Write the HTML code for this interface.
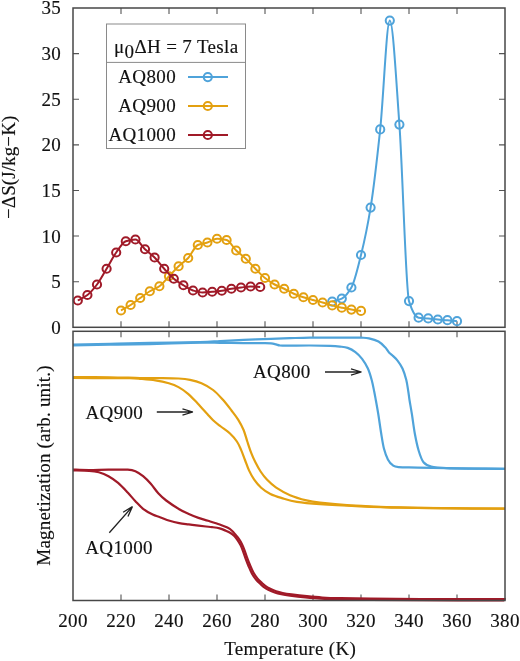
<!DOCTYPE html><html><head><meta charset="utf-8"><style>html,body{margin:0;padding:0;background:#fff;}svg{display:block;will-change:transform;} text{font-family:"Liberation Serif",serif;font-size:19px;fill:#111;letter-spacing:0.35px;stroke:#111;stroke-width:0.15px;}</style></head><body>
<svg width="520" height="661" viewBox="0 0 520 661">
<path d="M121.0,327.3v-6 M121.0,8v6 M121.0,331.3v6 M121.0,600.5v-6 M169.0,327.3v-6 M169.0,8v6 M169.0,331.3v6 M169.0,600.5v-6 M217.0,327.3v-6 M217.0,8v6 M217.0,331.3v6 M217.0,600.5v-6 M265.0,327.3v-6 M265.0,8v6 M265.0,331.3v6 M265.0,600.5v-6 M313.0,327.3v-6 M313.0,8v6 M313.0,331.3v6 M313.0,600.5v-6 M361.0,327.3v-6 M361.0,8v6 M361.0,331.3v6 M361.0,600.5v-6 M409.0,327.3v-6 M409.0,8v6 M409.0,331.3v6 M409.0,600.5v-6 M457.0,327.3v-6 M457.0,8v6 M457.0,331.3v6 M457.0,600.5v-6 M73,281.69h6 M505,281.69h-6 M73,236.07h6 M505,236.07h-6 M73,190.46h6 M505,190.46h-6 M73,144.84h6 M505,144.84h-6 M73,99.23h6 M505,99.23h-6 M73,53.61h6 M505,53.61h-6" stroke="#555" stroke-width="1.1" fill="none"/>
<g stroke="#8a8a8a" stroke-width="1" fill="none"><rect x="106.5" y="24" width="139" height="124.5"/><line x1="106.5" y1="62.4" x2="245.5" y2="62.4"/></g>
<text x="114" y="52.7">μ<tspan dy="5.6">0</tspan><tspan dy="-5.6">ΔH = 7 Tesla</tspan></text>
<text x="176" y="83.1" text-anchor="end">AQ800</text>
<line x1="188" y1="77.1" x2="228" y2="77.1" stroke="#4FA3DA" stroke-width="2"/>
<circle cx="207.8" cy="77.1" r="4.1" stroke="#4FA3DA" stroke-width="2" fill="none"/>
<text x="176" y="112.0" text-anchor="end">AQ900</text>
<line x1="188" y1="106" x2="228" y2="106" stroke="#E3A010" stroke-width="2"/>
<circle cx="207.8" cy="106" r="4.1" stroke="#E3A010" stroke-width="2" fill="none"/>
<text x="176" y="141.0" text-anchor="end">AQ1000</text>
<line x1="188" y1="135" x2="228" y2="135" stroke="#A01A28" stroke-width="2"/>
<circle cx="207.8" cy="135" r="4.1" stroke="#A01A28" stroke-width="2" fill="none"/>
<path d="M332.20,301.60 C335.40,300.60 338.60,300.17 341.80,298.60 C345.00,297.03 348.20,293.02 351.40,287.50 C354.60,281.98 357.80,267.85 361.00,255.00 C364.20,242.15 367.40,227.27 370.60,207.60 C373.80,187.93 377.00,159.73 380.20,129.40 C383.40,99.07 386.60,20.60 389.80,20.60 C393.00,20.60 396.20,80.97 399.40,124.60 C402.60,168.23 405.80,290.98 409.00,301.10 C412.20,311.22 415.40,317.25 418.60,317.70 C421.80,318.15 425.00,318.11 428.20,318.40 C431.40,318.69 434.60,319.21 437.80,319.50 C441.00,319.79 444.20,319.93 447.40,320.20 C450.60,320.47 453.80,320.87 457.00,321.20" stroke="#4FA3DA" stroke-width="2" fill="none"/>
<circle cx="332.20" cy="301.60" r="4.1" stroke="#4FA3DA" stroke-width="2" fill="none"/>
<circle cx="341.80" cy="298.60" r="4.1" stroke="#4FA3DA" stroke-width="2" fill="none"/>
<circle cx="351.40" cy="287.50" r="4.1" stroke="#4FA3DA" stroke-width="2" fill="none"/>
<circle cx="361.00" cy="255.00" r="4.1" stroke="#4FA3DA" stroke-width="2" fill="none"/>
<circle cx="370.60" cy="207.60" r="4.1" stroke="#4FA3DA" stroke-width="2" fill="none"/>
<circle cx="380.20" cy="129.40" r="4.1" stroke="#4FA3DA" stroke-width="2" fill="none"/>
<circle cx="389.80" cy="20.60" r="4.1" stroke="#4FA3DA" stroke-width="2" fill="none"/>
<circle cx="399.40" cy="124.60" r="4.1" stroke="#4FA3DA" stroke-width="2" fill="none"/>
<circle cx="409.00" cy="301.10" r="4.1" stroke="#4FA3DA" stroke-width="2" fill="none"/>
<circle cx="418.60" cy="317.70" r="4.1" stroke="#4FA3DA" stroke-width="2" fill="none"/>
<circle cx="428.20" cy="318.40" r="4.1" stroke="#4FA3DA" stroke-width="2" fill="none"/>
<circle cx="437.80" cy="319.50" r="4.1" stroke="#4FA3DA" stroke-width="2" fill="none"/>
<circle cx="447.40" cy="320.20" r="4.1" stroke="#4FA3DA" stroke-width="2" fill="none"/>
<circle cx="457.00" cy="321.20" r="4.1" stroke="#4FA3DA" stroke-width="2" fill="none"/>
<path d="M121.00,310.50 C124.20,308.67 127.40,307.05 130.60,305.00 C133.80,302.95 137.00,300.29 140.20,298.00 C143.40,295.71 146.60,293.16 149.80,291.25 C153.00,289.34 156.20,288.47 159.40,286.25 C162.60,284.03 165.80,279.58 169.00,276.25 C172.20,272.92 175.40,269.26 178.60,266.25 C181.80,263.24 185.00,261.36 188.20,258.00 C191.40,254.64 194.60,246.40 197.80,245.00 C201.00,243.60 204.20,243.50 207.40,242.50 C210.60,241.50 213.80,238.75 217.00,238.75 C220.20,238.75 223.40,239.26 226.60,240.00 C229.80,240.74 233.00,247.42 236.20,250.50 C239.40,253.58 242.60,255.74 245.80,258.75 C249.00,261.76 252.20,265.55 255.40,268.75 C258.60,271.95 261.80,275.46 265.00,278.00 C268.20,280.54 271.40,282.79 274.60,284.50 C277.80,286.21 281.00,287.22 284.20,288.75 C287.40,290.28 290.60,292.38 293.80,293.75 C297.00,295.12 300.20,296.22 303.40,297.25 C306.60,298.28 309.80,299.13 313.00,300.00 C316.20,300.87 319.40,301.60 322.60,302.50 C325.80,303.40 329.00,304.54 332.20,305.40 C335.40,306.26 338.60,307.01 341.80,307.70 C345.00,308.39 348.20,309.09 351.40,309.60 C354.60,310.11 357.80,310.47 361.00,310.90" stroke="#E3A010" stroke-width="2" fill="none"/>
<circle cx="121.00" cy="310.50" r="4.1" stroke="#E3A010" stroke-width="2" fill="none"/>
<circle cx="130.60" cy="305.00" r="4.1" stroke="#E3A010" stroke-width="2" fill="none"/>
<circle cx="140.20" cy="298.00" r="4.1" stroke="#E3A010" stroke-width="2" fill="none"/>
<circle cx="149.80" cy="291.25" r="4.1" stroke="#E3A010" stroke-width="2" fill="none"/>
<circle cx="159.40" cy="286.25" r="4.1" stroke="#E3A010" stroke-width="2" fill="none"/>
<circle cx="169.00" cy="276.25" r="4.1" stroke="#E3A010" stroke-width="2" fill="none"/>
<circle cx="178.60" cy="266.25" r="4.1" stroke="#E3A010" stroke-width="2" fill="none"/>
<circle cx="188.20" cy="258.00" r="4.1" stroke="#E3A010" stroke-width="2" fill="none"/>
<circle cx="197.80" cy="245.00" r="4.1" stroke="#E3A010" stroke-width="2" fill="none"/>
<circle cx="207.40" cy="242.50" r="4.1" stroke="#E3A010" stroke-width="2" fill="none"/>
<circle cx="217.00" cy="238.75" r="4.1" stroke="#E3A010" stroke-width="2" fill="none"/>
<circle cx="226.60" cy="240.00" r="4.1" stroke="#E3A010" stroke-width="2" fill="none"/>
<circle cx="236.20" cy="250.50" r="4.1" stroke="#E3A010" stroke-width="2" fill="none"/>
<circle cx="245.80" cy="258.75" r="4.1" stroke="#E3A010" stroke-width="2" fill="none"/>
<circle cx="255.40" cy="268.75" r="4.1" stroke="#E3A010" stroke-width="2" fill="none"/>
<circle cx="265.00" cy="278.00" r="4.1" stroke="#E3A010" stroke-width="2" fill="none"/>
<circle cx="274.60" cy="284.50" r="4.1" stroke="#E3A010" stroke-width="2" fill="none"/>
<circle cx="284.20" cy="288.75" r="4.1" stroke="#E3A010" stroke-width="2" fill="none"/>
<circle cx="293.80" cy="293.75" r="4.1" stroke="#E3A010" stroke-width="2" fill="none"/>
<circle cx="303.40" cy="297.25" r="4.1" stroke="#E3A010" stroke-width="2" fill="none"/>
<circle cx="313.00" cy="300.00" r="4.1" stroke="#E3A010" stroke-width="2" fill="none"/>
<circle cx="322.60" cy="302.50" r="4.1" stroke="#E3A010" stroke-width="2" fill="none"/>
<circle cx="332.20" cy="305.40" r="4.1" stroke="#E3A010" stroke-width="2" fill="none"/>
<circle cx="341.80" cy="307.70" r="4.1" stroke="#E3A010" stroke-width="2" fill="none"/>
<circle cx="351.40" cy="309.60" r="4.1" stroke="#E3A010" stroke-width="2" fill="none"/>
<circle cx="361.00" cy="310.90" r="4.1" stroke="#E3A010" stroke-width="2" fill="none"/>
<path d="M77.80,300.50 C81.00,298.67 84.20,297.41 87.40,295.00 C90.60,292.59 93.80,288.70 97.00,284.50 C100.20,280.30 103.40,274.08 106.60,268.75 C109.80,263.42 113.00,256.93 116.20,252.50 C119.40,248.07 122.60,242.26 125.80,241.25 C129.00,240.24 132.20,239.50 135.40,239.50 C138.60,239.50 141.80,246.27 145.00,249.25 C148.20,252.23 151.40,254.33 154.60,257.50 C157.80,260.67 161.00,265.22 164.20,268.75 C167.40,272.28 170.60,276.12 173.80,278.75 C177.00,281.38 180.20,283.31 183.40,285.25 C186.60,287.19 189.80,289.53 193.00,290.50 C196.20,291.47 199.40,292.50 202.60,292.50 C205.80,292.50 209.00,292.04 212.20,291.75 C215.40,291.46 218.60,291.19 221.80,290.75 C225.00,290.31 228.20,289.26 231.40,288.75 C234.60,288.24 237.80,287.87 241.00,287.50 C244.20,287.13 247.40,286.50 250.60,286.50 C253.80,286.50 257.00,286.83 260.20,287.00" stroke="#A01A28" stroke-width="2" fill="none"/>
<circle cx="77.80" cy="300.50" r="4.1" stroke="#A01A28" stroke-width="2" fill="none"/>
<circle cx="87.40" cy="295.00" r="4.1" stroke="#A01A28" stroke-width="2" fill="none"/>
<circle cx="97.00" cy="284.50" r="4.1" stroke="#A01A28" stroke-width="2" fill="none"/>
<circle cx="106.60" cy="268.75" r="4.1" stroke="#A01A28" stroke-width="2" fill="none"/>
<circle cx="116.20" cy="252.50" r="4.1" stroke="#A01A28" stroke-width="2" fill="none"/>
<circle cx="125.80" cy="241.25" r="4.1" stroke="#A01A28" stroke-width="2" fill="none"/>
<circle cx="135.40" cy="239.50" r="4.1" stroke="#A01A28" stroke-width="2" fill="none"/>
<circle cx="145.00" cy="249.25" r="4.1" stroke="#A01A28" stroke-width="2" fill="none"/>
<circle cx="154.60" cy="257.50" r="4.1" stroke="#A01A28" stroke-width="2" fill="none"/>
<circle cx="164.20" cy="268.75" r="4.1" stroke="#A01A28" stroke-width="2" fill="none"/>
<circle cx="173.80" cy="278.75" r="4.1" stroke="#A01A28" stroke-width="2" fill="none"/>
<circle cx="183.40" cy="285.25" r="4.1" stroke="#A01A28" stroke-width="2" fill="none"/>
<circle cx="193.00" cy="290.50" r="4.1" stroke="#A01A28" stroke-width="2" fill="none"/>
<circle cx="202.60" cy="292.50" r="4.1" stroke="#A01A28" stroke-width="2" fill="none"/>
<circle cx="212.20" cy="291.75" r="4.1" stroke="#A01A28" stroke-width="2" fill="none"/>
<circle cx="221.80" cy="290.75" r="4.1" stroke="#A01A28" stroke-width="2" fill="none"/>
<circle cx="231.40" cy="288.75" r="4.1" stroke="#A01A28" stroke-width="2" fill="none"/>
<circle cx="241.00" cy="287.50" r="4.1" stroke="#A01A28" stroke-width="2" fill="none"/>
<circle cx="250.60" cy="286.50" r="4.1" stroke="#A01A28" stroke-width="2" fill="none"/>
<circle cx="260.20" cy="287.00" r="4.1" stroke="#A01A28" stroke-width="2" fill="none"/>
<path d="M73.00,344.55 C79.17,344.42 97.17,344.02 110.00,343.75 C122.83,343.48 135.00,343.22 150.00,342.95 C165.00,342.68 188.33,342.41 200.00,342.10 C211.67,341.79 212.75,341.47 220.00,341.10 C227.25,340.73 235.00,340.27 243.50,339.90 C252.00,339.53 263.25,339.18 271.00,338.90 C278.75,338.62 283.50,338.42 290.00,338.20 C296.50,337.98 301.67,337.68 310.00,337.60 C318.33,337.52 331.50,337.68 340.00,337.70 C348.50,337.72 356.17,337.60 361.00,337.70 C365.83,337.80 366.08,337.67 369.00,338.30 C371.92,338.93 375.80,340.00 378.50,341.50 C381.20,343.00 383.45,345.47 385.20,347.30 C386.95,349.13 387.78,351.13 389.00,352.50 C390.22,353.87 391.05,354.12 392.50,355.50 C393.95,356.88 396.03,358.63 397.70,360.80 C399.37,362.97 401.07,365.30 402.50,368.50 C403.93,371.70 405.33,376.17 406.30,380.00 C407.27,383.83 407.77,388.17 408.30,391.50 C408.83,394.83 408.90,396.22 409.50,400.00 C410.10,403.78 411.02,408.62 411.90,414.20 C412.78,419.78 413.67,427.40 414.80,433.50 C415.93,439.60 417.25,446.00 418.70,450.80 C420.15,455.60 421.42,459.68 423.50,462.30 C425.58,464.92 427.37,465.53 431.20,466.50 C435.03,467.47 439.20,467.75 446.50,468.10 C453.80,468.45 465.25,468.48 475.00,468.60 C484.75,468.72 500.00,468.77 505.00,468.80" stroke="#4FA3DA" stroke-width="2.2" fill="none" stroke-linejoin="round"/>
<path d="M73.00,345.45 C79.17,345.33 97.17,344.98 110.00,344.75 C122.83,344.52 135.00,344.39 150.00,344.05 C165.00,343.71 188.33,342.91 200.00,342.70 C211.67,342.49 212.75,342.73 220.00,342.80 C227.25,342.87 236.50,343.03 243.50,343.10 C250.50,343.17 257.42,343.15 262.00,343.20 C266.58,343.25 268.67,343.20 271.00,343.40 C273.33,343.60 274.50,344.05 276.00,344.40 C277.50,344.75 278.00,345.28 280.00,345.50 C282.00,345.72 283.00,345.70 288.00,345.70 C293.00,345.70 303.00,345.47 310.00,345.50 C317.00,345.53 325.00,345.72 330.00,345.90 C335.00,346.08 337.05,346.27 340.00,346.60 C342.95,346.93 345.13,346.98 347.70,347.90 C350.27,348.82 353.00,350.28 355.40,352.10 C357.80,353.92 360.02,356.07 362.10,358.80 C364.18,361.53 366.30,364.97 367.90,368.50 C369.50,372.03 370.65,376.17 371.70,380.00 C372.75,383.83 373.52,388.17 374.20,391.50 C374.88,394.83 375.12,396.22 375.80,400.00 C376.48,403.78 377.40,408.62 378.30,414.20 C379.20,419.78 380.25,427.73 381.20,433.50 C382.15,439.27 382.88,444.48 384.00,448.80 C385.12,453.12 386.45,456.67 387.90,459.40 C389.35,462.13 390.93,463.92 392.70,465.20 C394.47,466.48 394.33,466.70 398.50,467.10 C402.67,467.50 407.45,467.38 417.70,467.60 C427.95,467.82 445.45,468.20 460.00,468.40 C474.55,468.60 497.50,468.73 505.00,468.80" stroke="#4FA3DA" stroke-width="2.2" fill="none" stroke-linejoin="round"/>
<path d="M73.00,377.20 C79.17,377.22 98.83,377.17 110.00,377.30 C121.17,377.43 131.80,377.87 140.00,378.00 C148.20,378.13 152.78,378.02 159.20,378.10 C165.62,378.18 173.37,378.22 178.50,378.50 C183.63,378.78 186.17,379.00 190.00,379.80 C193.83,380.60 197.65,381.60 201.50,383.30 C205.35,385.00 209.57,387.28 213.10,390.00 C216.63,392.72 219.63,396.18 222.70,399.60 C225.77,403.02 228.90,407.13 231.50,410.50 C234.10,413.87 236.28,416.55 238.30,419.80 C240.32,423.05 242.10,426.38 243.60,430.00 C245.10,433.62 246.02,437.65 247.30,441.50 C248.58,445.35 249.95,449.63 251.30,453.10 C252.65,456.57 253.85,459.23 255.40,462.30 C256.95,465.37 258.68,468.62 260.60,471.50 C262.52,474.38 264.30,476.90 266.90,479.60 C269.50,482.30 272.35,485.10 276.20,487.70 C280.05,490.30 284.95,493.08 290.00,495.20 C295.05,497.32 301.50,499.15 306.50,500.40 C311.50,501.65 312.75,501.88 320.00,502.70 C327.25,503.52 336.67,504.52 350.00,505.30 C363.33,506.08 383.33,506.92 400.00,507.40 C416.67,507.88 432.50,508.00 450.00,508.20 C467.50,508.40 495.83,508.53 505.00,508.60" stroke="#E3A010" stroke-width="2.2" fill="none" stroke-linejoin="round"/>
<path d="M73.00,378.00 C79.17,378.02 100.50,378.07 110.00,378.10 C119.50,378.13 125.00,378.08 130.00,378.20 C135.00,378.32 135.77,378.43 140.00,378.80 C144.23,379.17 150.60,379.65 155.40,380.40 C160.20,381.15 164.95,382.18 168.80,383.30 C172.65,384.42 175.28,385.35 178.50,387.10 C181.72,388.85 184.90,391.07 188.10,393.80 C191.30,396.53 194.50,400.13 197.70,403.50 C200.90,406.87 204.73,411.20 207.30,414.00 C209.87,416.80 210.85,418.22 213.10,420.30 C215.35,422.38 217.98,424.30 220.80,426.50 C223.62,428.70 227.32,431.00 230.00,433.50 C232.68,436.00 235.07,438.82 236.90,441.50 C238.73,444.18 239.65,446.52 241.00,449.60 C242.35,452.68 243.67,456.53 245.00,460.00 C246.33,463.47 247.47,467.13 249.00,470.40 C250.53,473.67 252.17,476.72 254.20,479.60 C256.23,482.48 258.50,485.30 261.20,487.70 C263.90,490.10 266.95,492.27 270.40,494.00 C273.85,495.73 277.48,496.78 281.90,498.10 C286.32,499.42 290.55,500.88 296.90,501.90 C303.25,502.92 309.48,503.47 320.00,504.20 C330.52,504.93 346.67,505.72 360.00,506.30 C373.33,506.88 385.00,507.35 400.00,507.70 C415.00,508.05 432.50,508.23 450.00,508.40 C467.50,508.57 495.83,508.65 505.00,508.70" stroke="#E3A010" stroke-width="2.2" fill="none" stroke-linejoin="round"/>
<path d="M73.00,469.60 C75.67,469.67 83.08,470.00 89.00,470.00 C94.92,470.00 102.05,469.65 108.50,469.60 C114.95,469.55 123.22,469.42 127.70,469.70 C132.18,469.98 132.83,470.22 135.40,471.30 C137.97,472.38 140.53,474.12 143.10,476.20 C145.67,478.28 148.23,480.92 150.80,483.80 C153.37,486.68 155.93,490.72 158.50,493.50 C161.07,496.28 162.75,497.88 166.20,500.50 C169.65,503.12 175.43,506.95 179.20,509.20 C182.97,511.45 185.58,512.55 188.80,514.00 C192.02,515.45 195.28,516.77 198.50,517.90 C201.72,519.03 204.57,519.70 208.10,520.80 C211.63,521.90 216.48,523.37 219.70,524.50 C222.92,525.63 225.35,526.57 227.40,527.60 C229.45,528.63 230.62,529.48 232.00,530.70 C233.38,531.92 234.55,533.53 235.70,534.90 C236.85,536.27 237.87,537.40 238.90,538.90 C239.93,540.40 241.02,542.15 241.90,543.90 C242.78,545.65 243.37,547.20 244.20,549.40 C245.03,551.60 245.95,554.53 246.90,557.10 C247.85,559.67 248.82,562.23 249.90,564.80 C250.98,567.37 252.12,570.20 253.40,572.50 C254.68,574.80 256.13,576.82 257.60,578.60 C259.07,580.38 260.92,581.98 262.20,583.20 C263.48,584.42 264.05,585.00 265.30,585.90 C266.55,586.80 267.90,587.70 269.70,588.60 C271.50,589.50 273.93,590.57 276.10,591.30 C278.27,592.03 280.13,592.48 282.70,593.00 C285.27,593.52 287.47,593.87 291.50,594.40 C295.53,594.93 301.78,595.68 306.90,596.20 C312.02,596.72 316.57,597.17 322.20,597.50 C327.83,597.83 332.62,598.00 340.70,598.20 C348.78,598.40 357.37,598.57 370.70,598.70 C384.03,598.83 398.20,598.92 420.70,599.00 C443.20,599.08 491.53,599.17 505.70,599.20" stroke="#A01A28" stroke-width="2.2" fill="none" stroke-linejoin="round"/>
<path d="M73.00,470.40 C75.70,470.47 84.90,470.48 89.20,470.80 C93.50,471.12 95.58,471.40 98.80,472.30 C102.02,473.20 105.28,474.43 108.50,476.20 C111.72,477.97 114.90,480.18 118.10,482.90 C121.30,485.62 124.82,489.45 127.70,492.50 C130.58,495.55 132.83,498.48 135.40,501.20 C137.97,503.92 140.22,506.57 143.10,508.80 C145.98,511.03 149.88,513.20 152.70,514.60 C155.52,516.00 157.18,516.17 160.00,517.20 C162.82,518.23 166.40,519.82 169.60,520.80 C172.80,521.78 176.00,522.50 179.20,523.10 C182.40,523.70 185.58,523.98 188.80,524.40 C192.02,524.82 195.63,525.25 198.50,525.60 C201.37,525.95 203.75,526.25 206.00,526.50 C208.25,526.75 209.72,526.78 212.00,527.10 C214.28,527.42 217.40,527.80 219.70,528.40 C222.00,529.00 224.00,529.93 225.80,530.70 C227.60,531.47 229.08,532.10 230.50,533.00 C231.92,533.90 233.13,534.92 234.30,536.10 C235.47,537.28 236.47,538.60 237.50,540.10 C238.53,541.60 239.62,543.35 240.50,545.10 C241.38,546.85 241.97,548.40 242.80,550.60 C243.63,552.80 244.55,555.73 245.50,558.30 C246.45,560.87 247.42,563.43 248.50,566.00 C249.58,568.57 250.72,571.40 252.00,573.70 C253.28,576.00 254.73,578.02 256.20,579.80 C257.67,581.58 259.52,583.18 260.80,584.40 C262.08,585.62 262.65,586.20 263.90,587.10 C265.15,588.00 266.50,588.90 268.30,589.80 C270.10,590.70 272.53,591.77 274.70,592.50 C276.87,593.23 278.73,593.68 281.30,594.20 C283.87,594.72 286.07,595.07 290.10,595.60 C294.13,596.13 300.38,596.88 305.50,597.40 C310.62,597.92 315.17,598.37 320.80,598.70 C326.43,599.03 331.22,599.20 339.30,599.40 C347.38,599.60 355.97,599.77 369.30,599.90 C382.63,600.03 396.80,600.12 419.30,600.20 C441.80,600.28 490.13,600.37 504.30,600.40" stroke="#A01A28" stroke-width="2.2" fill="none" stroke-linejoin="round"/>
<g stroke="#474747" stroke-width="1.5" fill="none"><rect x="73" y="8" width="432" height="319.3"/><rect x="73" y="331.3" width="432" height="269.2"/></g>
<text x="73.0" y="626.6" text-anchor="middle">200</text>
<text x="121.0" y="626.6" text-anchor="middle">220</text>
<text x="169.0" y="626.6" text-anchor="middle">240</text>
<text x="217.0" y="626.6" text-anchor="middle">260</text>
<text x="265.0" y="626.6" text-anchor="middle">280</text>
<text x="313.0" y="626.6" text-anchor="middle">300</text>
<text x="361.0" y="626.6" text-anchor="middle">320</text>
<text x="409.0" y="626.6" text-anchor="middle">340</text>
<text x="457.0" y="626.6" text-anchor="middle">360</text>
<text x="505.0" y="626.6" text-anchor="middle">380</text>
<text x="61.2" y="333.7" text-anchor="end">0</text>
<text x="61.2" y="288.1" text-anchor="end">5</text>
<text x="61.2" y="242.5" text-anchor="end">10</text>
<text x="61.2" y="196.9" text-anchor="end">15</text>
<text x="61.2" y="151.2" text-anchor="end">20</text>
<text x="61.2" y="105.6" text-anchor="end">25</text>
<text x="61.2" y="60.0" text-anchor="end">30</text>
<text x="61.2" y="14.4" text-anchor="end">35</text>
<text x="290.2" y="654.5" text-anchor="middle">Temperature (K)</text>
<text transform="translate(15.2,167.3) rotate(-90)" text-anchor="middle" style="letter-spacing:0.1px">−ΔS(J/kg−K)</text>
<text transform="translate(49.5,465.5) rotate(-90)" text-anchor="middle" style="font-size:19px;letter-spacing:0.2px">Magnetization (arb. unit.)</text>
<text x="253" y="378.3">AQ800</text>
<text x="85.5" y="419.1">AQ900</text>
<text x="85.3" y="553.9">AQ1000</text>
<path d="M325,372 L361.5,372 M361.5,372 L350.98,368.78 M361.5,372 L350.98,375.22" stroke="#222" stroke-width="1.3" fill="none"/>
<path d="M156.8,412 L193,412 M193,412 L182.48,408.78 M193,412 L182.48,415.22" stroke="#222" stroke-width="1.3" fill="none"/>
<path d="M109.3,532.8 L132.5,506.5 M132.5,506.5 L123.13,512.26 M132.5,506.5 L127.95,516.52" stroke="#222" stroke-width="1.3" fill="none"/>
</svg></body></html>
